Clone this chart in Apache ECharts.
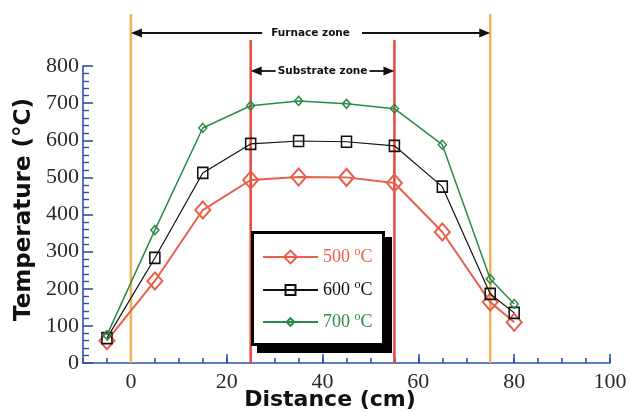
<!DOCTYPE html>
<html><head><meta charset="utf-8">
<script src="https://cdn.jsdelivr.net/npm/echarts@6/dist/echarts.min.js"></script>
<style>html,body{margin:0;padding:0;background:#fff}#c{width:630px;height:412px}</style>
</head><body><div id="c"></div>
<script>
// ---- data ----
const distance = [-5, 5, 15, 25, 35, 45, 55, 65, 75, 80];
const temp500 = [60, 221, 412, 493, 501, 500, 485, 353, 164, 110];
const temp600 = [67, 283, 512, 590, 598, 596, 585, 475, 186, 135];
const temp700 = [75, 358, 633, 693, 706, 698, 685, 588, 226, 159];
const seriesNames = ['500 °C', '600 °C', '700 °C'];
const xLabelValues = [0, 20, 40, 60, 80, 100];
const furnaceZone = [0, 75];
const substrateZone = [25, 55];
const zoneLabels = ['Furnace zone', 'Substrate zone'];

// ---- styles ----
const RED = '#e8604a', BLACK = '#111111', GREEN = '#2a8a4a';
const ORANGE = '#f2b257', ZRED = '#e8483a', AXIS = '#2e4fb5';
const serif = '"Liberation Serif", "DejaVu Serif", serif';
const sans = '"DejaVu Sans", sans-serif';

const chart = echarts.init(document.getElementById('c'), null, {renderer: 'canvas'});
const pts = arr => distance.map((d, i) => [d, arr[i]]);
const classes = ['r', 'k', 'g'];
const colors = [RED, BLACK, GREEN];
const legendIconH = [16, 12.5, 9.5];
const legendCenterY = [257, 290, 322];

function makeLegend(i) {
  const c = classes[i];
  const rich = {};
  rich[c] = {color: colors[i], fontFamily: serif, fontSize: 18, lineHeight: 22, verticalAlign: 'middle'};
  rich[c + 's'] = {color: colors[i], fontFamily: serif, fontSize: 12, lineHeight: 22, verticalAlign: 'top'};
  return {
    orient: 'vertical', left: 262, top: legendCenterY[i] - 11, padding: 0,
    itemWidth: 55, itemHeight: legendIconH[i], z: 20,
    data: [seriesNames[i]],
    formatter: name => `{${c}|${name.split(' ')[0]} }{${c}s|o}{${c}|C}`,
    textStyle: {rich: rich}
  };
}

chart.setOption({
  animation: false,
  backgroundColor: '#fff',
  grid: {left: 83, right: 20, top: 66, bottom: 49, containLabel: false, outerBoundsMode: 'none'},
  xAxis: [{
    type: 'value', min: -10, max: 100, interval: 10,
    name: 'Distance (cm)', nameLocation: 'middle', nameGap: 26, nameMoveOverlap: false,
    nameTextStyle: {fontFamily: sans, fontWeight: 'bold', fontSize: 22, color: '#111', padding: [0, 33, 0, 0]},
    axisLine: {show: true, onZero: false, lineStyle: {color: AXIS, width: 1.6}},
    axisTick: {show: true, inside: true, length: 9, lineStyle: {color: AXIS, width: 1.6}, customValues: xLabelValues},
    axisLabel: {fontFamily: serif, fontSize: 22, color: '#2a2a2a', margin: 8, customValues: xLabelValues, hideOverlap: false},
    splitLine: {show: false}
  }, {
    type: 'value', min: -10, max: 100, interval: 5, position: 'bottom',
    axisLine: {show: false, onZero: false},
    axisTick: {show: true, inside: true, length: 5, lineStyle: {color: AXIS, width: 1.6}},
    axisLabel: {show: false}, splitLine: {show: false}
  }],
  yAxis: {
    type: 'value', min: 0, max: 800, interval: 100,
    name: 'Temperature (°C)', nameLocation: 'middle', nameGap: 47,
    nameTextStyle: {fontFamily: sans, fontWeight: 'bold', fontSize: 23, color: '#111', padding: [0, 0, 0, 10]},
    axisLine: {show: true, onZero: false, lineStyle: {color: AXIS, width: 1.6}},
    axisTick: {show: true, inside: true, length: 10, lineStyle: {color: AXIS, width: 1.6}},
    minorTick: {show: true, splitNumber: 5, length: 6, lineStyle: {color: AXIS, width: 1.4}},
    axisLabel: {fontFamily: serif, fontSize: 22, color: '#2a2a2a', margin: 4},
    splitLine: {show: false}
  },
  legend: [0, 1, 2].map(makeLegend),
  series: [
    {name: seriesNames[0], type: 'line', data: pts(temp500), symbol: 'diamond', symbolSize: [15, 17],
     lineStyle: {color: RED, width: 2}, itemStyle: {color: 'rgba(255,255,255,0)', borderColor: RED, borderWidth: 2}, z: 3},
    {name: seriesNames[1], type: 'line', data: pts(temp600), symbol: 'rect', symbolSize: [10, 11],
     lineStyle: {color: BLACK, width: 1.2}, itemStyle: {color: 'rgba(255,255,255,0)', borderColor: BLACK, borderWidth: 1.6}, z: 4},
    {name: seriesNames[2], type: 'line', data: pts(temp700), symbol: 'diamond', symbolSize: [8, 9],
     lineStyle: {color: GREEN, width: 1.5}, itemStyle: {color: 'rgba(255,255,255,0)', borderColor: GREEN, borderWidth: 1.5}, z: 5}
  ]
});

// ---- zone annotations positioned via the axis scale ----
function px(x, y) { return chart.convertToPixel({xAxisIndex: 0, yAxisIndex: 0}, [x, y]); }
const cv = document.createElement('canvas').getContext('2d');
const zoneFont = 'bold 10.5px "DejaVu Sans"';
cv.font = zoneFont;
const y0 = px(0, 0)[1];
const g = [];
function vline(xv, top, color) {
  const x = px(xv, 0)[0];
  g.push({type: 'line', z: 1, shape: {x1: x, y1: top, x2: x, y2: y0}, style: {stroke: color, lineWidth: 2.5}});
}
function arrow(xFrom, xTo, y) {
  const dir = xTo > xFrom ? 1 : -1;
  g.push({type: 'line', z: 10, shape: {x1: xFrom, y1: y, x2: xTo - dir * 9, y2: y}, style: {stroke: '#111', lineWidth: 1.8}});
  g.push({type: 'polygon', z: 10, shape: {points: [[xTo, y], [xTo - dir * 11, y - 4.5], [xTo - dir * 11, y + 4.5]]}, style: {fill: '#111'}});
}
function zone(range, labelY, label, gapL, gapR) {
  const xa = px(range[0], 0)[0], xb = px(range[1], 0)[0];
  const mid = (xa + xb) / 2;
  const w = cv.measureText(label).width;
  g.push({type: 'text', z: 10, style: {x: mid, y: labelY, text: label, font: zoneFont, fill: '#111', align: 'center', verticalAlign: 'middle'}});
  arrow(mid - w / 2 - gapL, xa, labelY);
  arrow(mid + w / 2 + gapR, xb, labelY);
}
furnaceZone.forEach(v => vline(v, 14, ORANGE));
substrateZone.forEach(v => vline(v, 40, ZRED));
zone(furnaceZone, 33, zoneLabels[0], 9, 12);
zone(substrateZone, 71, zoneLabels[1], 2, 2);
// legend frame with drop shadow
g.push({type: 'rect', z: 15, shape: {x: 257, y: 237, width: 135, height: 116}, style: {fill: '#000'}});
g.push({type: 'rect', z: 16, shape: {x: 252.5, y: 232.5, width: 131, height: 112}, style: {fill: '#fff', stroke: '#000', lineWidth: 3}});
chart.setOption({graphic: g});
</script>
</body></html>
